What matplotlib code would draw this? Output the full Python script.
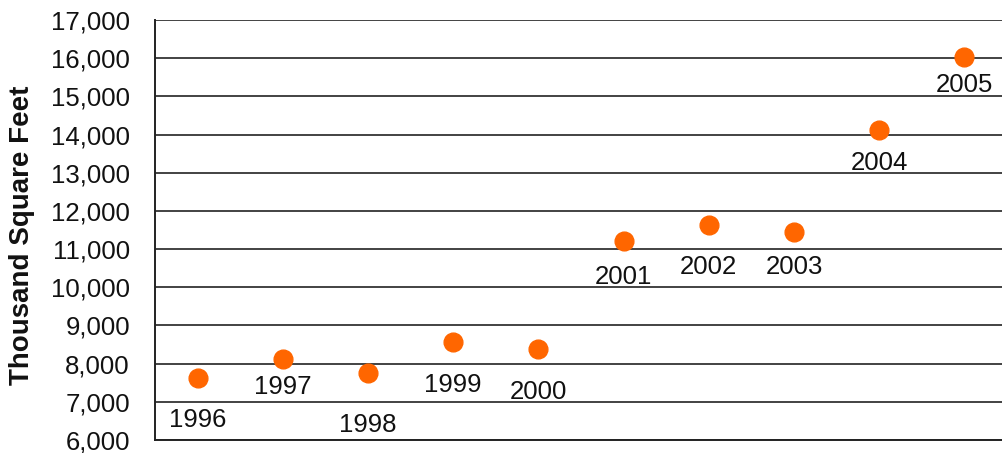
import matplotlib.pyplot as plt
import matplotlib.ticker as mticker

# --- Data ---
years = ["1996", "1997", "1998", "1999", "2000", "2001", "2002", "2003", "2004", "2005"]
sq_feet = [7620, 8110, 7760, 8570, 8380, 11200, 11630, 11460, 14120, 16040]
# vertical offset of each year label below its dot (pixels)
label_drop = [42, 28, 52, 43, 43, 36, 42, 35, 33, 28]

plt.rcParams['font.family'] = ['Liberation Sans', 'DejaVu Sans']

fig = plt.figure(figsize=(10.02, 4.53), dpi=100)
ax = fig.add_axes([155 / 1002, 13 / 453, 852 / 1002, 420 / 453])

x = list(range(len(years)))
ax.plot(x, sq_feet, linestyle="none", marker="o", ms=13.5, color="#ff6600", zorder=3)

for xi, yi, lab, d in zip(x, sq_feet, years, label_drop):
    ax.annotate(lab, (xi, yi), xytext=(0, -d * 0.72), textcoords="offset points",
                ha="center", va="center", fontsize=18.5, color="#111111")

ax.set_xlim(-0.5, len(years) - 0.5)
ax.set_ylim(6000, 17000)
ax.yaxis.set_major_locator(mticker.MultipleLocator(1000))
ax.yaxis.set_major_formatter(mticker.StrMethodFormatter("{x:,.0f}"))
ax.set_xticks([])
ax.tick_params(axis="y", length=0, pad=18, labelsize=18.5, labelcolor="#111111")
ax.grid(axis="y", color="#222222", linewidth=1.2)
ax.set_axisbelow(True)

for side in ["top", "right"]:
    ax.spines[side].set_visible(False)
for side in ["left", "bottom"]:
    ax.spines[side].set_color("#222222")
    ax.spines[side].set_linewidth(1.4)

fig.text(22 / 1002, 218 / 453, "Thousand Square Feet", rotation=90, ha="center", va="center",
         fontsize=20, fontweight="bold", color="#111111")

fig.savefig("out.png", dpi=100)
